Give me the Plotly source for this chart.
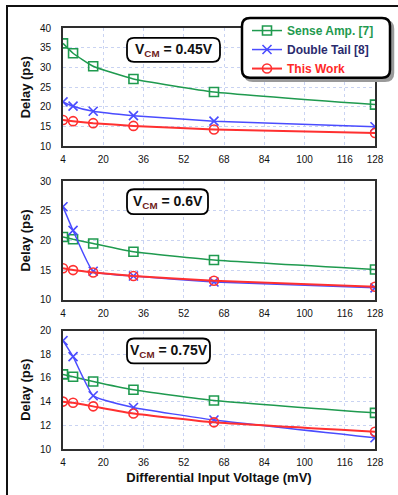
import plotly.graph_objects as go
from plotly.subplots import make_subplots

vdiff = [4, 8, 16, 32, 64, 128]
x_ticks = [4, 20, 36, 52, 68, 84, 100, 116, 128]

sa_045 = [36.1, 33.6, 30.3, 27.1, 23.8, 20.6]
dt_045 = [21.3, 20.2, 18.9, 17.8, 16.4, 15.0]
tw_045 = [16.7, 16.4, 15.9, 15.2, 14.3, 13.4]

sa_060 = [20.6, 20.2, 19.5, 18.1, 16.7, 15.1]
dt_060 = [25.7, 21.7, 14.8, 14.0, 13.0, 12.0]
tw_060 = [15.3, 15.0, 14.6, 14.0, 13.2, 12.2]

sa_075 = [16.3, 16.1, 15.7, 15.0, 14.1, 13.05]
dt_075 = [19.15, 17.8, 14.5, 13.5, 12.45, 10.95]
tw_075 = [14.0, 13.9, 13.6, 13.0, 12.25, 11.45]

vcm_labels = ["0.45V", "0.6V", "0.75V"]
series_names = ["Sense Amp. [7]", "Double Tail [8]", "This Work"]

W, H = 398, 495
ML, MR, MT, MB = 63, 23, 28, 44
PW, PH = W - ML - MR, H - MT - MB

def px(x):
    return (x - ML) / PW

def py(y):
    return (H - MB - y) / PH

GREEN = "#1f9a4f"
BLUE = "#4a4cff"
RED = "#ff3030"
FONT = "Arial, Liberation Sans, sans-serif"

fig = make_subplots(rows=3, cols=1)

data = [(sa_045, dt_045, tw_045), (sa_060, dt_060, tw_060), (sa_075, dt_075, tw_075)]
styles = [
    dict(color=GREEN, symbol="square-open", width=1.5, lcol="#1f9a4f"),
    dict(color=BLUE, symbol="x-thin-open", width=1.5, lcol="#2b2b6e"),
    dict(color=RED, symbol="circle-open", width=2, lcol="#ff2828"),
]
for r, sets in enumerate(data, start=1):
    for k, (vals, st) in enumerate(zip(sets, styles)):
        fig.add_trace(go.Scatter(
            x=vdiff, y=vals, mode="lines+markers",
            name="<b><span style='color:%s'>%s</span></b>" % (st["lcol"], series_names[k]),
            line=dict(color=st["color"], width=st["width"], shape="spline", smoothing=0.4),
            marker=dict(symbol=st["symbol"], size=9, color=st["color"],
                        line=dict(color=st["color"], width=1.6)),
            showlegend=(r == 1), legendrank=k,
        ), row=r, col=1)

domains = [(py(147), py(28)), (py(301), py(182)), (py(451), py(332))]
yranges = [(10, 40, 5), (10, 30, 5), (10, 20, 2)]
for i in range(3):
    xa = "xaxis" if i == 0 else "xaxis%d" % (i + 1)
    ya = "yaxis" if i == 0 else "yaxis%d" % (i + 1)
    fig.layout[xa].update(
        domain=[0, 1], range=[4, 128], tickvals=x_ticks, ticktext=[str(t) for t in x_ticks],
        showgrid=True, gridcolor="#c9d3f2", griddash="dot", gridwidth=1,
        showline=True, mirror=True, linecolor="#2e2e2e", linewidth=2,
        zeroline=False, ticks="", ticklabelstandoff=3,
        tickfont=dict(family=FONT, size=10, color="#111"),
    )
    lo, hi, dt = yranges[i]
    fig.layout[ya].update(
        domain=list(domains[i]), range=[lo, hi], dtick=dt, tick0=lo,
        showgrid=True, gridcolor="#c9d3f2", griddash="dot", gridwidth=1,
        showline=True, mirror=True, linecolor="#2e2e2e", linewidth=2,
        zeroline=False, ticks="", ticklabelstandoff=8,
        tickfont=dict(family=FONT, size=10, color="#111"),
        title=dict(text="<b>Delay (ps)</b>", font=dict(family=FONT, size=13, color="#111"), standoff=6),
    )
fig.layout.xaxis3.title = dict(text="<b>Differential Input Voltage (mV)</b>",
                               font=dict(family=FONT, size=13, color="#111"), standoff=6)

def rrect(x0, y0, x1, y1, r):
    rx, ry = r / PW, r / PH
    X0, X1 = px(x0), px(x1)
    Y0, Y1 = py(y0), py(y1)
    return ("M %f,%f L %f,%f Q %f,%f %f,%f L %f,%f Q %f,%f %f,%f L %f,%f Q %f,%f %f,%f "
            "L %f,%f Q %f,%f %f,%f Z") % (
        X0 + rx, Y0, X1 - rx, Y0, X1, Y0, X1, Y0 - ry,
        X1, Y1 + ry, X1, Y1, X1 - rx, Y1,
        X0 + rx, Y1, X0, Y1, X0, Y1 + ry,
        X0, Y0 - ry, X0, Y0, X0 + rx, Y0)

shapes = []
shapes.append(dict(type="rect", xref="paper", yref="paper",
                   x0=px(7), x1=px(420), y0=py(6), y1=py(520),
                   line=dict(color="#111", width=2), fillcolor="rgba(0,0,0,0)", layer="above"))
shapes.append(dict(type="path", xref="paper", yref="paper", path=rrect(245, 21, 393, 81, 8),
                   line=dict(color="#9a9a9a", width=2.5), fillcolor="#9a9a9a", layer="above"))
shapes.append(dict(type="path", xref="paper", yref="paper", path=rrect(242, 18, 390, 78, 8),
                   line=dict(color="#000", width=2.5), fillcolor="white", layer="above"))
vboxes = [(127, 38, 220, 62), (127, 190, 208, 215), (127, 340, 210, 365)]
for (x0, y0, x1, y1) in vboxes:
    shapes.append(dict(type="path", xref="paper", yref="paper", path=rrect(x0, y0, x1, y1, 7),
                       line=dict(color="#000", width=1.8), fillcolor="white", layer="above"))
fig.update_layout(shapes=shapes)

for (x0, y0, x1, y1), lab in zip(vboxes, vcm_labels):
    fig.add_annotation(
        xref="paper", yref="paper", x=px((x0 + x1) / 2), y=py((y0 + y1) / 2),
        text="<b>V<sub><span style='color:#6e1c1c'>CM</span></sub> = %s</b>" % lab,
        showarrow=False, font=dict(family=FONT, size=14, color="#111"),
        xanchor="center", yanchor="middle",
    )

fig.update_layout(
    width=W, height=H,
    margin=dict(l=ML, r=MR, t=MT, b=MB),
    paper_bgcolor="white", plot_bgcolor="white",
    legend=dict(x=px(247), y=py(16), xanchor="left", yanchor="top",
                bgcolor="rgba(0,0,0,0)", borderwidth=0,
                font=dict(family=FONT, size=12), itemwidth=30, tracegroupgap=0),
    font=dict(family=FONT),
    showlegend=True,
)

fig.write_html("out.html", config={"displayModeBar": False},
               post_script="document.body.style.margin='0';document.body.style.padding='0';")
